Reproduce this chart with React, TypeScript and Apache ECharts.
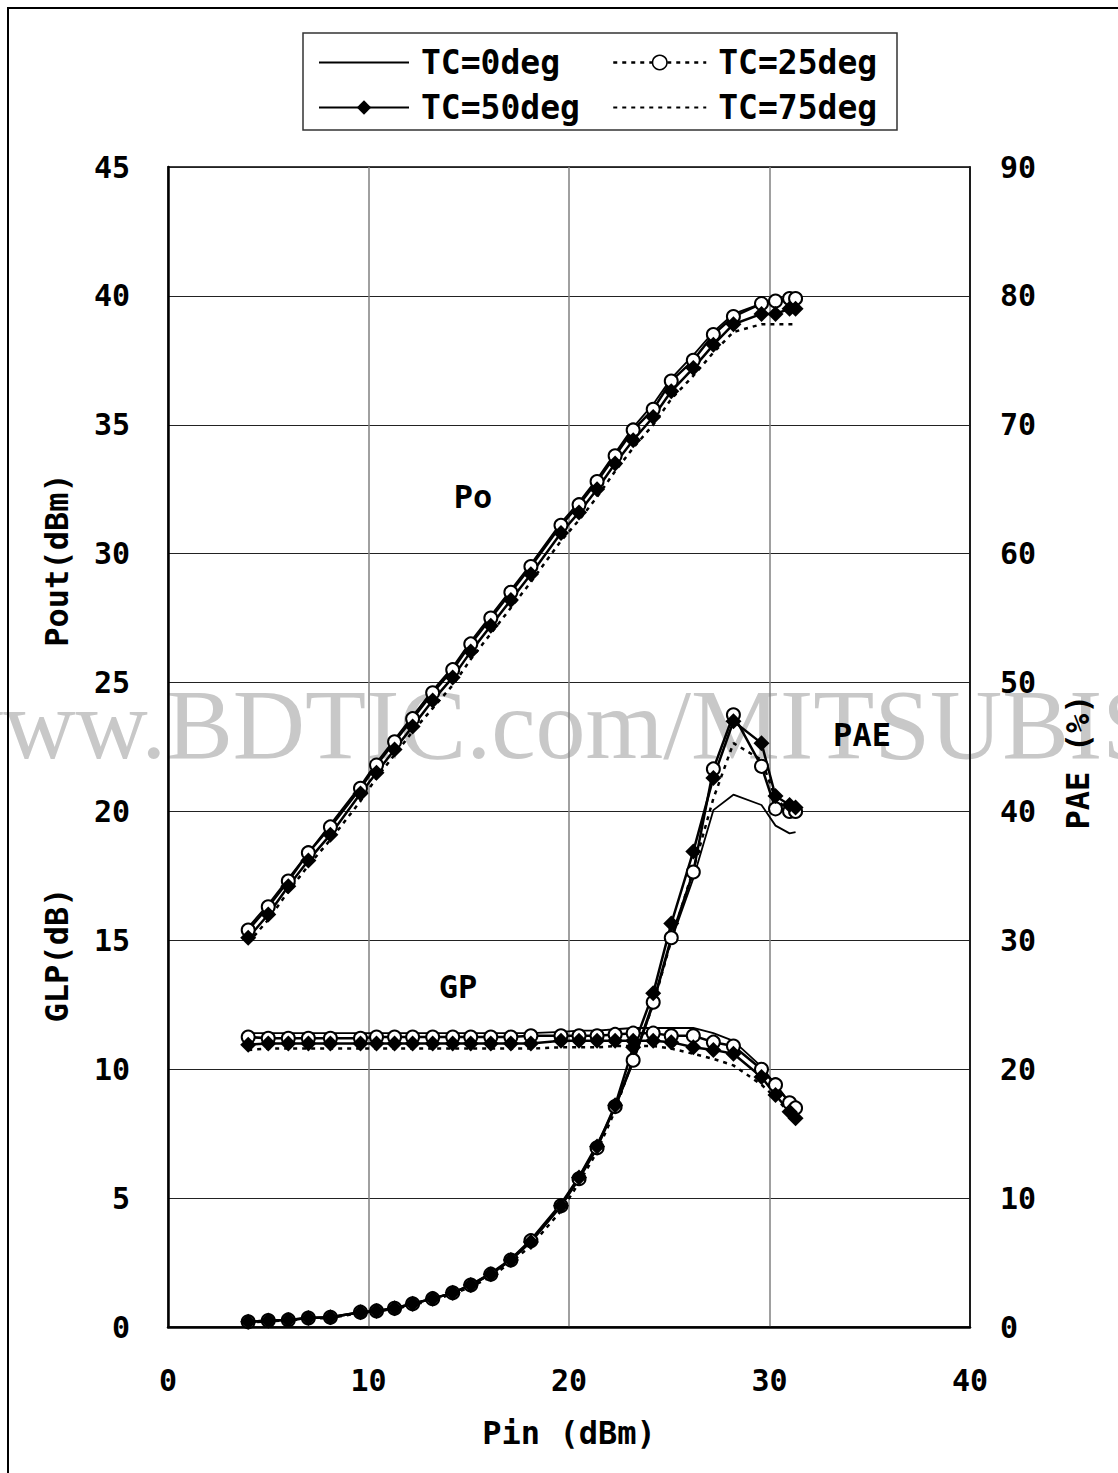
import React, { useEffect, useRef } from "react";
import * as echarts from "echarts";

// Input power (dBm)
const pin = [4.0, 5.0, 6.0, 7.0, 8.1, 9.6, 10.4, 11.3, 12.2, 13.2, 14.2, 15.1, 16.1, 17.1, 18.1, 19.6, 20.5, 21.4, 22.3, 23.2, 24.2, 25.1, 26.2, 27.2, 28.2, 29.6, 30.3, 31.0, 31.3];

// Output power Po (dBm)
const po0 = [15.5, 16.4, 17.4, 18.4, 19.5, 21.0, 21.9, 22.8, 23.7, 24.7, 25.6, 26.6, 27.6, 28.6, 29.6, 31.2, 32.0, 32.9, 33.9, 34.9, 35.8, 36.8, 37.7, 38.6, 39.3, 39.7, 39.8, 39.8, 39.8];
const po25 = [15.4, 16.3, 17.3, 18.4, 19.4, 20.9, 21.8, 22.7, 23.6, 24.6, 25.5, 26.5, 27.5, 28.5, 29.5, 31.1, 31.9, 32.8, 33.8, 34.8, 35.6, 36.7, 37.5, 38.5, 39.2, 39.7, 39.8, 39.9, 39.9];
const po50 = [15.1, 16.0, 17.1, 18.1, 19.1, 20.7, 21.5, 22.4, 23.3, 24.3, 25.2, 26.2, 27.2, 28.2, 29.2, 30.8, 31.6, 32.5, 33.5, 34.4, 35.3, 36.3, 37.2, 38.1, 38.9, 39.3, 39.3, 39.5, 39.5];
const po75 = [14.9, 15.8, 16.9, 17.9, 18.9, 20.4, 21.3, 22.2, 23.1, 24.0, 24.9, 25.9, 26.9, 27.9, 28.9, 30.5, 31.3, 32.2, 33.2, 34.1, 35.0, 36.0, 36.9, 37.8, 38.6, 38.9, 38.9, 38.9, 38.9];

// Power gain GP (dB)
const gp0 = [11.4, 11.4, 11.4, 11.4, 11.4, 11.4, 11.4, 11.4, 11.4, 11.4, 11.4, 11.4, 11.4, 11.4, 11.4, 11.45, 11.5, 11.5, 11.55, 11.6, 11.6, 11.6, 11.6, 11.4, 11.1, 10.1, 9.4, 8.7, 8.5];
const gp25 = [11.25, 11.2, 11.2, 11.2, 11.2, 11.2, 11.25, 11.25, 11.25, 11.25, 11.25, 11.25, 11.25, 11.25, 11.3, 11.3, 11.3, 11.3, 11.35, 11.4, 11.4, 11.3, 11.3, 11.05, 10.9, 10.0, 9.4, 8.7, 8.5];
const gp50 = [10.95, 11.0, 11.0, 11.0, 11.0, 11.0, 11.0, 11.0, 11.0, 11.0, 11.0, 11.0, 11.0, 11.0, 11.0, 11.1, 11.1, 11.1, 11.1, 11.1, 11.1, 11.05, 10.85, 10.75, 10.6, 9.7, 9.0, 8.35, 8.1];
const gp75 = [10.75, 10.8, 10.8, 10.8, 10.8, 10.8, 10.8, 10.8, 10.8, 10.8, 10.8, 10.8, 10.8, 10.8, 10.8, 10.85, 10.85, 10.85, 10.9, 10.9, 10.9, 10.8, 10.6, 10.4, 10.15, 9.4, 8.9, 8.3, 8.0];

// Power added efficiency PAE (%)
const pae0 = [0.4, 0.5, 0.55, 0.7, 0.75, 1.15, 1.25, 1.45, 1.8, 2.2, 2.65, 3.3, 4.2, 5.3, 6.8, 9.6, 11.7, 14.2, 17.0, 20.5, 25.0, 30.0, 34.8, 40.1, 41.3, 40.5, 38.9, 38.3, 38.4];
const pae25 = [0.4, 0.5, 0.55, 0.7, 0.75, 1.15, 1.25, 1.45, 1.8, 2.2, 2.65, 3.25, 4.1, 5.2, 6.7, 9.4, 11.5, 13.9, 17.1, 20.7, 25.2, 30.2, 35.3, 43.3, 47.5, 43.5, 40.2, 40.0, 40.0];
const pae50 = [0.4, 0.5, 0.55, 0.7, 0.75, 1.15, 1.25, 1.45, 1.8, 2.2, 2.65, 3.25, 4.1, 5.2, 6.6, 9.4, 11.6, 14.0, 17.2, 21.7, 25.9, 31.3, 36.9, 42.6, 47.0, 45.3, 41.2, 40.5, 40.3];
const pae75 = [0.35, 0.45, 0.5, 0.65, 0.7, 1.1, 1.2, 1.4, 1.7, 2.1, 2.55, 3.1, 3.9, 5.0, 6.3, 9.0, 11.2, 13.6, 16.8, 20.8, 25.0, 30.0, 35.5, 41.0, 45.3, 44.0, 41.0, 40.0, 40.0];

const FONT = '"DejaVu Sans Mono", monospace';

const styles: Record<string, any> = {
  "TC=0deg": {
    symbol: "none",
    lineStyle: { color: "#000", width: 1.8 },
    itemStyle: { color: "#000" },
  },
  "TC=25deg": {
    symbol: "circle",
    symbolSize: 13,
    lineStyle: { color: "#000", width: 2.5 },
    itemStyle: { color: "#fff", borderColor: "#000", borderWidth: 2 },
  },
  "TC=50deg": {
    symbol: "diamond",
    symbolSize: 16,
    lineStyle: { color: "#000", width: 2.5 },
    itemStyle: { color: "#000" },
  },
  "TC=75deg": {
    symbol: "none",
    lineStyle: { color: "#000", width: 2.5, type: [4, 5] },
    itemStyle: { color: "#000" },
  },
};

function mk(name: string, axis: number, vals: number[]) {
  return {
    name,
    type: "line",
    yAxisIndex: axis,
    data: pin.map((p, i) => [p, vals[i]]),
    showSymbol: styles[name].symbol !== "none",
    ...styles[name],
    emphasis: { disabled: true },
  };
}

export default function App() {
  const ref = useRef<HTMLDivElement>(null);
  useEffect(() => {
    document.body.style.margin = "0";
    const chart = echarts.init(ref.current!, null, { renderer: "svg" });
    const textBase = { fontFamily: FONT, fontWeight: "bold", color: "#000" };
    const labelText = (text: string, x: number, y: number, rot = 0) => ({
      type: "text",
      x,
      y,
      rotation: rot,
      style: { text, fontFamily: FONT, fontWeight: "bold", fontSize: 32, fill: "#000", align: "center", verticalAlign: "middle" },
    });
    const option: any = {
      animation: false,
      backgroundColor: "#fff",
      grid: {
        left: 168,
        top: 167,
        width: 802,
        height: 1160,
        show: true,
        borderColor: "#000",
        borderWidth: 1.5,
        backgroundColor: "transparent",
      },
      legend: [
        {
          orient: "vertical",
          left: 313,
          top: 41,
          itemWidth: 90,
          itemHeight: 18,
          itemGap: 12,
          selectedMode: false,
          data: [
            { name: "TC=0deg", itemStyle: { opacity: 0 } },
            "TC=50deg",
          ],
          textStyle: { ...textBase, fontSize: 33, padding: [0, 0, 0, 7] },
        },
        {
          orient: "vertical",
          left: 607,
          top: 41,
          itemWidth: 93,
          itemHeight: 18,
          itemGap: 12,
          selectedMode: false,
          data: [
            { name: "TC=25deg", lineStyle: { type: [4, 5], width: 2.5 }, itemStyle: { borderWidth: 1.5 } },
            { name: "TC=75deg", itemStyle: { opacity: 0 } },
          ],
          textStyle: { ...textBase, fontSize: 33, padding: [0, 0, 0, 7] },
        },
      ],
      xAxis: {
        type: "value",
        min: 0,
        max: 40,
        interval: 10,
        axisLine: { show: true, onZero: false, lineStyle: { color: "#000", width: 2.5 } },
        axisTick: { show: false },
        splitLine: { show: true, lineStyle: { color: "#808080", width: 1.5 } },
        axisLabel: { ...textBase, fontSize: 30, margin: 38 },
        name: "Pin (dBm)",
        nameLocation: "middle",
        nameGap: 90,
        nameTextStyle: { ...textBase, fontSize: 32 },
      },
      yAxis: [
        {
          type: "value",
          min: 0,
          max: 45,
          interval: 5,
          position: "left",
          axisLine: { show: true, lineStyle: { color: "#000", width: 2.5 } },
          axisTick: { show: false },
          splitLine: { show: true, lineStyle: { color: "#222", width: 1 } },
          axisLabel: { ...textBase, fontSize: 30, margin: 38 },
        },
        {
          type: "value",
          min: 0,
          max: 90,
          interval: 10,
          position: "right",
          axisLine: { show: true, lineStyle: { color: "#000", width: 1.5 } },
          axisTick: { show: false },
          splitLine: { show: false },
          axisLabel: { ...textBase, fontSize: 30, margin: 30 },
        },
      ],
      graphic: [
        {
          type: "text",
          x: -69,
          y: 724,
          z: -10,
          silent: true,
          style: {
            text: "www.BDTIC.com/MITSUBISHI",
            fontFamily: '"Liberation Serif", serif',
            fontSize: 100,
            fill: "#c8c8c8",
            verticalAlign: "middle",
          },
        },
        {
          type: "rect",
          shape: { x: 8, y: 8, width: 1400, height: 1700 },
          style: { fill: "none", stroke: "#000", lineWidth: 2 },
          silent: true,
        },
        {
          type: "rect",
          shape: { x: 303, y: 33, width: 594, height: 97 },
          style: { fill: "none", stroke: "#333", lineWidth: 1.5 },
          silent: true,
        },
        labelText("Pout(dBm)", 57, 560, Math.PI / 2),
        labelText("GLP(dB)", 57, 955, Math.PI / 2),
        labelText("PAE (%)", 1078, 762, Math.PI / 2),
        labelText("Po", 473, 497),
        labelText("GP", 458, 987),
        labelText("PAE", 862, 735),
      ],
      series: [
        mk("TC=75deg", 0, po75),
        mk("TC=75deg", 0, gp75),
        mk("TC=75deg", 1, pae75),
        mk("TC=0deg", 0, po0),
        mk("TC=0deg", 0, gp0),
        mk("TC=0deg", 1, pae0),
        mk("TC=25deg", 0, po25),
        mk("TC=25deg", 0, gp25),
        mk("TC=25deg", 1, pae25),
        mk("TC=50deg", 0, po50),
        mk("TC=50deg", 0, gp50),
        mk("TC=50deg", 1, pae50),
      ],
    };
    chart.setOption(option);
    return () => chart.dispose();
  }, []);
  return <div ref={ref} style={{ width: 1118, height: 1473, background: "#fff" }} />;
}
